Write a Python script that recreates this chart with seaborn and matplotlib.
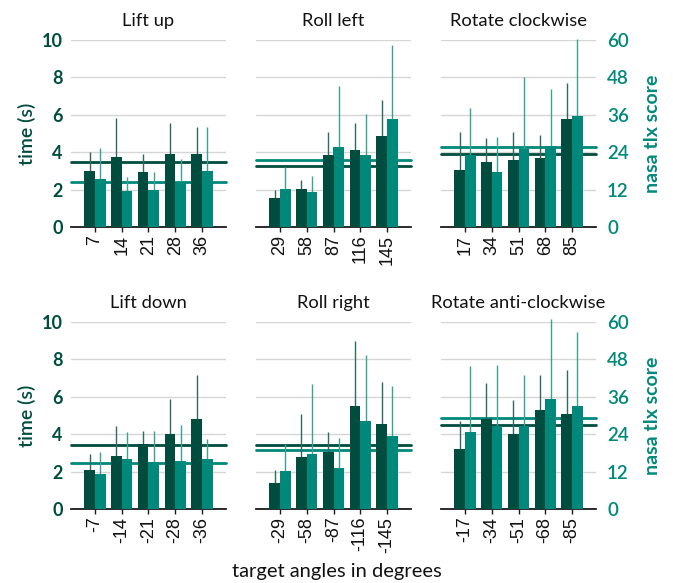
import numpy as np
import pandas as pd
import matplotlib
matplotlib.use("Agg")
import matplotlib.pyplot as plt
import seaborn as sns

# ---- data: mean completion time (s) and NASA TLX score per target angle ----
titles = ["Lift up", "Roll left", "Rotate clockwise",
          "Lift down", "Roll right", "Rotate anti-clockwise"]

angles_lift_up = ["7", "14", "21", "28", "36"]
time_lift_up = [3.0, 3.75, 2.95, 3.9, 3.9]
time_sd_lift_up = [1.0, 2.07, 0.94, 1.66, 1.46]
tlx_lift_up = [15.4, 11.6, 11.9, 14.5, 18.0]
tlx_sd_lift_up = [9.9, 4.5, 5.7, 7.4, 14.1]

angles_roll_left = ["29", "58", "87", "116", "145"]
time_roll_left = [1.55, 2.04, 3.86, 4.13, 4.84]
time_sd_roll_left = [0.41, 0.48, 1.23, 1.44, 1.93]
tlx_roll_left = [12.2, 11.25, 25.8, 23.1, 34.8]
tlx_sd_roll_left = [7.2, 5.25, 19.5, 13.0, 23.6]

angles_rot_cw = ["17", "34", "51", "68", "85"]
time_rot_cw = [3.05, 3.48, 3.59, 3.70, 5.79]
time_sd_rot_cw = [2.04, 1.29, 1.50, 1.23, 1.91]
tlx_rot_cw = [23.1, 17.7, 25.1, 26.0, 35.7]
tlx_sd_rot_cw = [15.15, 11.2, 23.1, 18.25, 24.5]

angles_lift_down = ["-7", "-14", "-21", "-28", "-36"]
time_lift_down = [2.07, 2.82, 3.46, 4.0, 4.8]
time_sd_lift_down = [0.86, 1.61, 0.70, 1.875, 2.36]
tlx_lift_down = [11.25, 16.0, 15.0, 15.3, 16.0]
tlx_sd_lift_down = [6.95, 8.75, 10.0, 11.8, 6.4]

angles_roll_right = ["-29", "-58", "-87", "-116", "-145"]
time_roll_right = [1.375, 2.77, 3.04, 5.5, 4.54]
time_sd_roll_right = [0.70, 2.32, 1.07, 3.48, 2.25]
tlx_roll_right = [12.1, 17.7, 13.1, 28.2, 23.4]
tlx_sd_roll_right = [8.9, 22.4, 9.6, 21.2, 16.2]

angles_rot_acw = ["-17", "-34", "-51", "-68", "-85"]
time_rot_acw = [3.2, 4.82, 4.0, 5.29, 5.07]
time_sd_rot_acw = [1.48, 1.93, 1.82, 1.85, 2.36]
tlx_rot_acw = [24.6, 26.6, 26.6, 35.25, 33.0]
tlx_sd_rot_acw = [21.3, 19.5, 16.4, 25.65, 23.9]

time_ticks = [0, 2, 4, 6, 8, 10]
tlx_ticks = [0, 12, 24, 36, 48, 60]

panels = [
    (angles_lift_up, time_lift_up, time_sd_lift_up, tlx_lift_up, tlx_sd_lift_up),
    (angles_roll_left, time_roll_left, time_sd_roll_left, tlx_roll_left, tlx_sd_roll_left),
    (angles_rot_cw, time_rot_cw, time_sd_rot_cw, tlx_rot_cw, tlx_sd_rot_cw),
    (angles_lift_down, time_lift_down, time_sd_lift_down, tlx_lift_down, tlx_sd_lift_down),
    (angles_roll_right, time_roll_right, time_sd_roll_right, tlx_roll_right, tlx_sd_roll_right),
    (angles_rot_acw, time_rot_acw, time_sd_rot_acw, tlx_rot_acw, tlx_sd_rot_acw),
]

# ---- style ----
sns.set_theme(style="white")
plt.rcParams["font.family"] = ["Lato", "DejaVu Sans"]

DARK = "#004d40"
TEAL = "#00897b"
DARK_ERR = "#2f6a60"
TEAL_ERR = "#36a394"
GRID = "#d6d6d6"
measures = ["time", "tlx"]
palette = {"time": DARK, "tlx": TEAL}

W, H = 673, 583
fig = plt.figure(figsize=(W / 100, H / 100), dpi=100)

lefts = [71, 256, 441]
tops = [40, 322]
aw, ah = 155, 187


def bar_centers(ax):
    return [p.get_x() + p.get_width() / 2 for p in ax.patches]


for i, (angles, t, t_sd, tlx, tlx_sd) in enumerate(panels):
    row, col = divmod(i, 3)
    rect = [lefts[col] / W, 1 - (tops[row] + ah) / H, aw / W, ah / H]

    # base axes: grid and mean time line
    ax = fig.add_axes(rect)
    # tlx axes on the right
    ax_tlx = ax.twinx()
    # overlay for the time bars so they sit above the tlx mean line
    ax_bar = fig.add_axes(rect, sharex=ax, sharey=ax)
    ax_bar.patch.set_visible(False)

    df_time = pd.DataFrame({"angle": angles, "value": t, "measure": "time"})
    df_tlx = pd.DataFrame({"angle": angles, "value": tlx, "measure": "tlx"})

    sns.barplot(data=df_tlx, x="angle", y="value", hue="measure",
                hue_order=measures, order=angles, palette=palette,
                dodge=True, width=0.8, saturation=1, legend=False,
                errorbar=None, ax=ax_tlx, zorder=3, linewidth=0,
                edgecolor="none")
    sns.barplot(data=df_time, x="angle", y="value", hue="measure",
                hue_order=measures, order=angles, palette=palette,
                dodge=True, width=0.8, saturation=1, legend=False,
                errorbar=None, ax=ax_bar, zorder=3, linewidth=0,
                edgecolor="none")

    # spread lines (upper half; the lower half sits behind the bars)
    xt = bar_centers(ax_tlx)
    ax_tlx.vlines(xt, tlx, np.add(tlx, tlx_sd), color=TEAL_ERR, lw=1.0,
                  zorder=2, clip_on=False)
    xd = bar_centers(ax_bar)
    ax_bar.vlines(xd, t, np.add(t, t_sd), color=DARK_ERR, lw=1.0,
                  zorder=2, clip_on=False)

    # overall means
    ax.axhline(np.mean(t), color=DARK, lw=2.0, zorder=2, clip_on=False)
    ax_tlx.axhline(np.mean(tlx), color=TEAL, lw=2.0, zorder=1, clip_on=False)

    ax.set_ylim(0, 10)
    ax_tlx.set_ylim(0, 60)
    ax.set_xlim(-0.9, 4.9)

    ax.set_yticks(time_ticks)
    ax_tlx.set_yticks(tlx_ticks)
    ax.yaxis.grid(True, color=GRID, lw=1.0, zorder=0)
    ax.set_axisbelow(True)

    for a in (ax, ax_tlx, ax_bar):
        for s in a.spines.values():
            s.set_visible(False)
        a.set_xlabel("")
        a.set_ylabel("")
    ax_bar.set_axis_off()
    ax.spines["bottom"].set_visible(True)
    ax.spines["bottom"].set_color("#1a1a1a")
    ax.spines["bottom"].set_linewidth(1.3)
    ax.spines["bottom"].set_zorder(5)

    ax.set_xticks(range(len(angles)))
    ax.set_xticklabels(angles, rotation=90, fontsize=13, color="#111111",
                       family=["Liberation Sans", "DejaVu Sans"])
    ax.tick_params(axis="x", bottom=True, length=3.5, width=1.0,
                   color="#1a1a1a", pad=2)

    ax.tick_params(axis="y", length=0, pad=6, labelsize=13,
                   labelcolor=DARK, labelleft=(col == 0))
    for lbl in ax.get_yticklabels():
        lbl.set_fontweight("bold")
    ax_tlx.tick_params(axis="y", length=0, pad=8, labelsize=13.5,
                       labelcolor=TEAL, labelright=(col == 2))
    for lbl in ax_tlx.get_yticklabels():
        lbl.set_fontweight("semibold")

    if col == 0:
        ax.set_ylabel("time (s)", color=DARK, fontsize=14,
                      fontweight="semibold", labelpad=4)
    if col == 2:
        ax_tlx.set_ylabel("nasa tlx score", color=TEAL, fontsize=14,
                          fontweight="bold", labelpad=11)

    ax.set_title(titles[i], fontsize=13.2, color="#111111", pad=10)

fig.text(0.5, 1 - 572 / H, "target angles in degrees", ha="center",
         va="center", fontsize=14.5, color="#111111")

fig.savefig("out.png", dpi=100)
